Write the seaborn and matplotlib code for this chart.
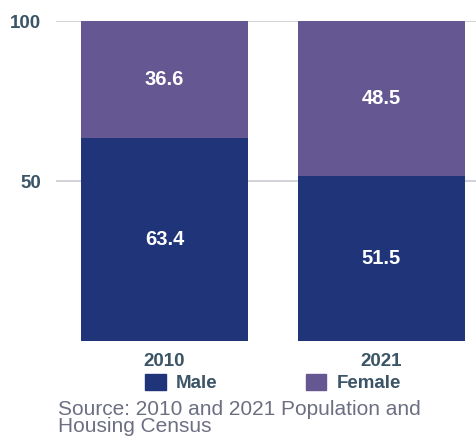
import matplotlib
matplotlib.use('Agg')
import matplotlib.pyplot as plt
import matplotlib.patches as mpatches
import seaborn as sns
import pandas as pd

years = ['2010', '2021']
male = [63.4, 51.5]
female = [36.6, 48.5]

male_color = '#1f3479'
female_color = '#655792'
text_color = '#3b5566'

df = pd.DataFrame({'year': years, 'male': male, 'female': female})
df['total'] = df['male'] + df['female']

sns.set_style('white')
plt.rcParams['font.family'] = ['Liberation Sans', 'DejaVu Sans']

fig = plt.figure(figsize=(4.77, 4.37), dpi=100)
ax = fig.add_axes([56 / 477, 1 - 341 / 437, 1 - 56 / 477, 320 / 437])

# stacked bars: total (female colour) under male
sns.barplot(data=df, x='year', y='total', color=female_color, saturation=1,
            width=0.77, linewidth=0, ax=ax, zorder=2)
sns.barplot(data=df, x='year', y='male', color=male_color, saturation=1,
            width=0.77, linewidth=0, ax=ax, zorder=3)

for i, (m, f) in enumerate(zip(male, female)):
    ax.text(i, m / 2, f'{m:.1f}', ha='center', va='center', color='white',
            fontsize=14.5, fontweight='bold', zorder=4)
    ax.text(i, m + f / 2, f'{f:.1f}', ha='center', va='center', color='white',
            fontsize=14.5, fontweight='bold', zorder=4)

ax.set_xlim(-0.5, 1.44)
ax.set_ylim(0, 100)
ax.set_yticks([50, 100])
ax.set_xlabel('')
ax.set_ylabel('')
ax.yaxis.grid(True, color='#c9ccd2', linewidth=1.2, zorder=0)
ax.set_axisbelow(True)
for s in ax.spines.values():
    s.set_visible(False)
ax.tick_params(axis='y', length=0, pad=11, labelsize=13.5, labelcolor=text_color)
ax.tick_params(axis='x', length=0, pad=9, labelsize=13.5, labelcolor=text_color)
for lab in ax.get_xticklabels() + ax.get_yticklabels():
    lab.set_fontweight('bold')

handles = [mpatches.Patch(color=male_color, label='Male'),
           mpatches.Patch(color=female_color, label='Female')]
leg = fig.legend(handles=handles, loc='center left',
                 bbox_to_anchor=(145 / 477, 1 - 383 / 437), ncol=2,
                 frameon=False, fontsize=13.5, borderpad=0, borderaxespad=0,
                 handlelength=1.1, handleheight=0.95, handletextpad=0.55,
                 columnspacing=4.7)
for t in leg.get_texts():
    t.set_color(text_color)
    t.set_fontweight('bold')

fig.text(58 / 477, 1 - 418 / 437, 'Source: 2010 and 2021 Population and\nHousing Census',
         ha='left', va='center', fontsize=15, color='#6c6f82', linespacing=0.9)

fig.savefig('out.png', dpi=100)
